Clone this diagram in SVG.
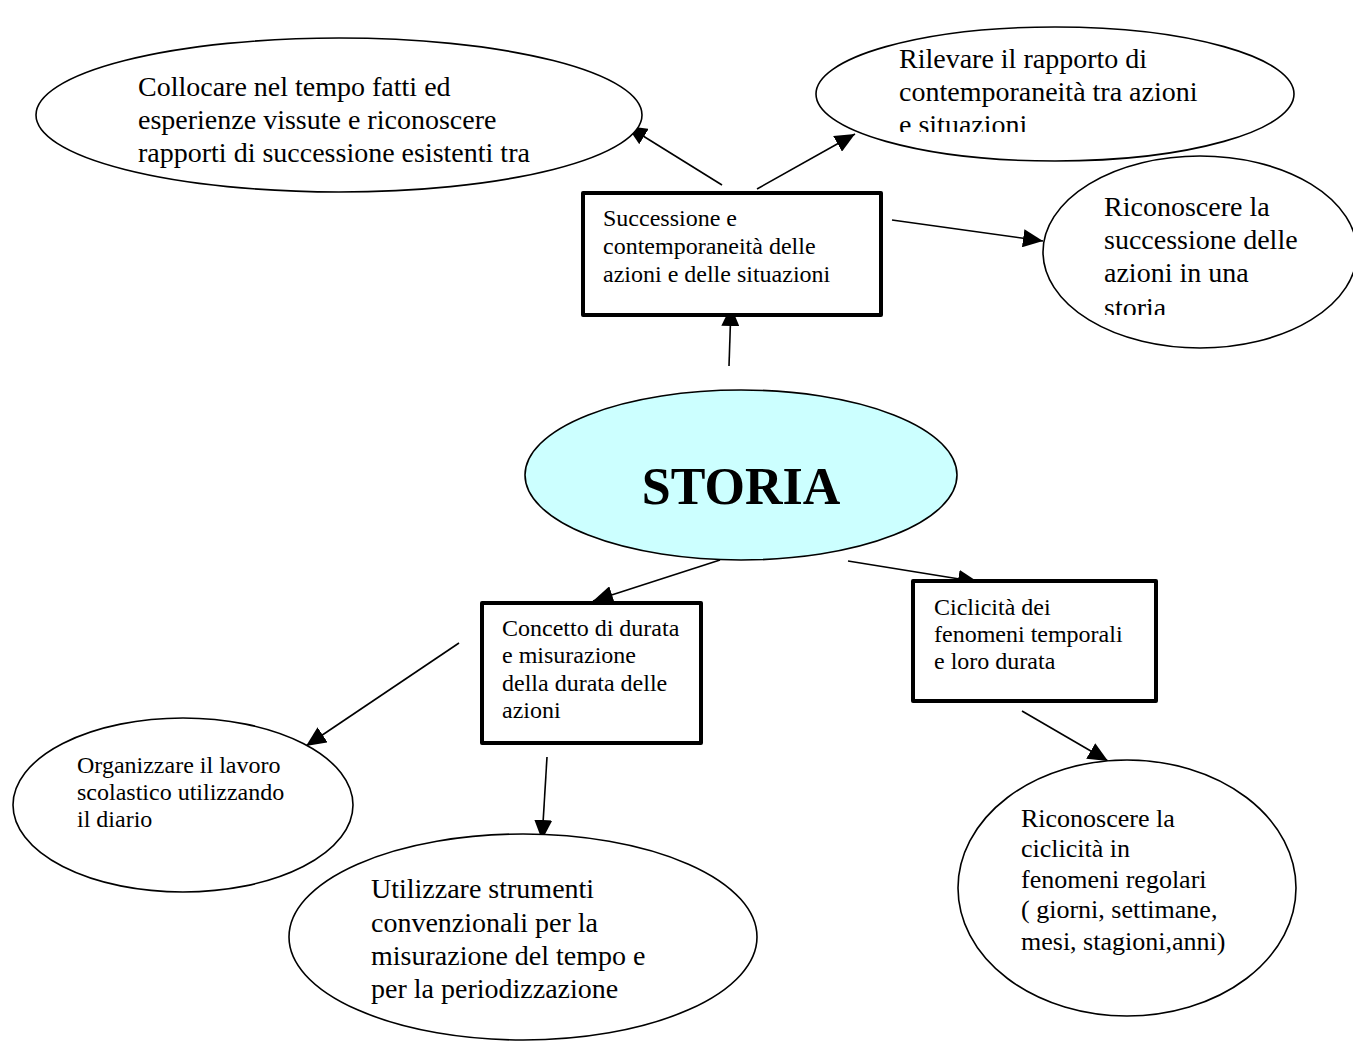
<svg xmlns="http://www.w3.org/2000/svg" width="1353" height="1048" viewBox="0 0 1353 1048">
  <style>
    .oval { fill: #ffffff; stroke: #000000; stroke-width: 1.6; }
    .core { fill: #ccffff; stroke: #000000; stroke-width: 1.6; }
    .box { fill: #ffffff; stroke: #000000; stroke-width: 4; stroke-linejoin: round; }
    .big { font-family: "Liberation Serif", "Times New Roman", serif; font-size: 28px; fill: #000000; }
    .mid { font-family: "Liberation Serif", "Times New Roman", serif; font-size: 26px; fill: #000000; }
    .small { font-family: "Liberation Serif", "Times New Roman", serif; font-size: 24px; fill: #000000; }
    .title { font-family: "Liberation Serif", "Times New Roman", serif; font-size: 52px; font-weight: bold; fill: #000000; }
    .link { stroke: #000000; stroke-width: 1.6; fill: none; marker-end: url(#head); }
  </style>
  <defs>
    <marker id="head" markerUnits="userSpaceOnUse" markerWidth="20" markerHeight="18" refX="20" refY="9" orient="auto">
      <path d="M0,0 L20,9 L0,18 z" fill="#000000"/>
    </marker>
    <clipPath id="clipRilevare">
      <rect x="820" y="20" width="480" height="112"/>
    </clipPath>
    <clipPath id="clipStoria">
      <rect x="1040" y="150" width="313" height="165"/>
    </clipPath>
  </defs>

  <rect x="0" y="0" width="1353" height="1048" fill="#ffffff"/>

  <!-- connectors -->
  <g id="connectors">
    <line class="link" x1="722" y1="185" x2="627" y2="126"/>
    <line class="link" x1="757" y1="189" x2="855" y2="134"/>
    <line class="link" x1="892" y1="220" x2="1043" y2="241"/>
    <line class="link" x1="729" y1="366" x2="731" y2="306"/>
    <line class="link" x1="720" y1="560" x2="593" y2="601"/>
    <line class="link" x1="848" y1="561" x2="978" y2="582"/>
    <line class="link" x1="459" y1="643" x2="306" y2="746"/>
    <line class="link" x1="547" y1="757" x2="542" y2="840"/>
    <line class="link" x1="1022" y1="711" x2="1108" y2="761"/>
  </g>

  <!-- top-left outcome -->
  <g id="collocare">
    <ellipse class="oval" cx="339" cy="115" rx="303" ry="77"/>
    <text class="big" x="138" y="96">Collocare nel tempo fatti ed</text>
    <text class="big" x="138" y="129">esperienze vissute e riconoscere</text>
    <text class="big" x="138" y="162">rapporti di successione esistenti tra</text>
  </g>

  <!-- top-right outcome -->
  <g id="rilevare">
    <ellipse class="oval" cx="1055" cy="94" rx="239" ry="67"/>
    <g clip-path="url(#clipRilevare)">
      <text class="big" x="899" y="68">Rilevare il rapporto di</text>
      <text class="big" x="899" y="101">contemporaneità tra azioni</text>
      <text class="big" x="899" y="134">e situazioni</text>
    </g>
  </g>

  <!-- right outcome -->
  <g id="riconoscere-successione">
    <ellipse class="oval" cx="1200" cy="252" rx="157" ry="96"/>
    <g clip-path="url(#clipStoria)">
      <text class="big" x="1104" y="216">Riconoscere la</text>
      <text class="big" x="1104" y="249">successione delle</text>
      <text class="big" x="1104" y="282">azioni in una</text>
      <text class="big" x="1104" y="317">storia</text>
    </g>
  </g>

  <!-- topic: succession -->
  <g id="successione">
    <rect class="box" x="583" y="193" width="298" height="122"/>
    <text class="small" x="603" y="226">Successione e</text>
    <text class="small" x="603" y="254">contemporaneità delle</text>
    <text class="small" x="603" y="282">azioni e delle situazioni</text>
  </g>

  <!-- central node -->
  <g id="storia">
    <ellipse class="core" cx="741" cy="475" rx="216" ry="85"/>
    <text class="title" x="741" y="504" text-anchor="middle">STORIA</text>
  </g>

  <!-- topic: duration -->
  <g id="durata">
    <rect class="box" x="482" y="603" width="219" height="140"/>
    <text class="small" x="502" y="636">Concetto di durata</text>
    <text class="small" x="502" y="663">e misurazione</text>
    <text class="small" x="502" y="691">della durata delle</text>
    <text class="small" x="502" y="718">azioni</text>
  </g>

  <!-- topic: cycles -->
  <g id="ciclicita">
    <rect class="box" x="913" y="581" width="243" height="120"/>
    <text class="small" x="934" y="615">Ciclicità dei</text>
    <text class="small" x="934" y="642">fenomeni temporali</text>
    <text class="small" x="934" y="669">e loro durata</text>
  </g>

  <!-- bottom-left outcome -->
  <g id="organizzare">
    <ellipse class="oval" cx="183" cy="805" rx="170" ry="87"/>
    <text class="small" x="77" y="773">Organizzare il lavoro</text>
    <text class="small" x="77" y="800">scolastico utilizzando</text>
    <text class="small" x="77" y="827">il diario</text>
  </g>

  <!-- bottom-centre outcome -->
  <g id="utilizzare">
    <ellipse class="oval" cx="523" cy="937" rx="234" ry="103"/>
    <text class="big" x="371" y="898">Utilizzare strumenti</text>
    <text class="big" x="371" y="932">convenzionali per la</text>
    <text class="big" x="371" y="965">misurazione del tempo e</text>
    <text class="big" x="371" y="998">per la periodizzazione</text>
  </g>

  <!-- bottom-right outcome -->
  <g id="riconoscere-ciclicita">
    <ellipse class="oval" cx="1127" cy="888" rx="169" ry="128"/>
    <text class="mid" x="1021" y="827">Riconoscere la</text>
    <text class="mid" x="1021" y="857">ciclicità in</text>
    <text class="mid" x="1021" y="888">fenomeni regolari</text>
    <text class="mid" x="1021" y="918">( giorni, settimane,</text>
    <text class="mid" x="1021" y="950">mesi, stagioni,anni)</text>
  </g>
</svg>
